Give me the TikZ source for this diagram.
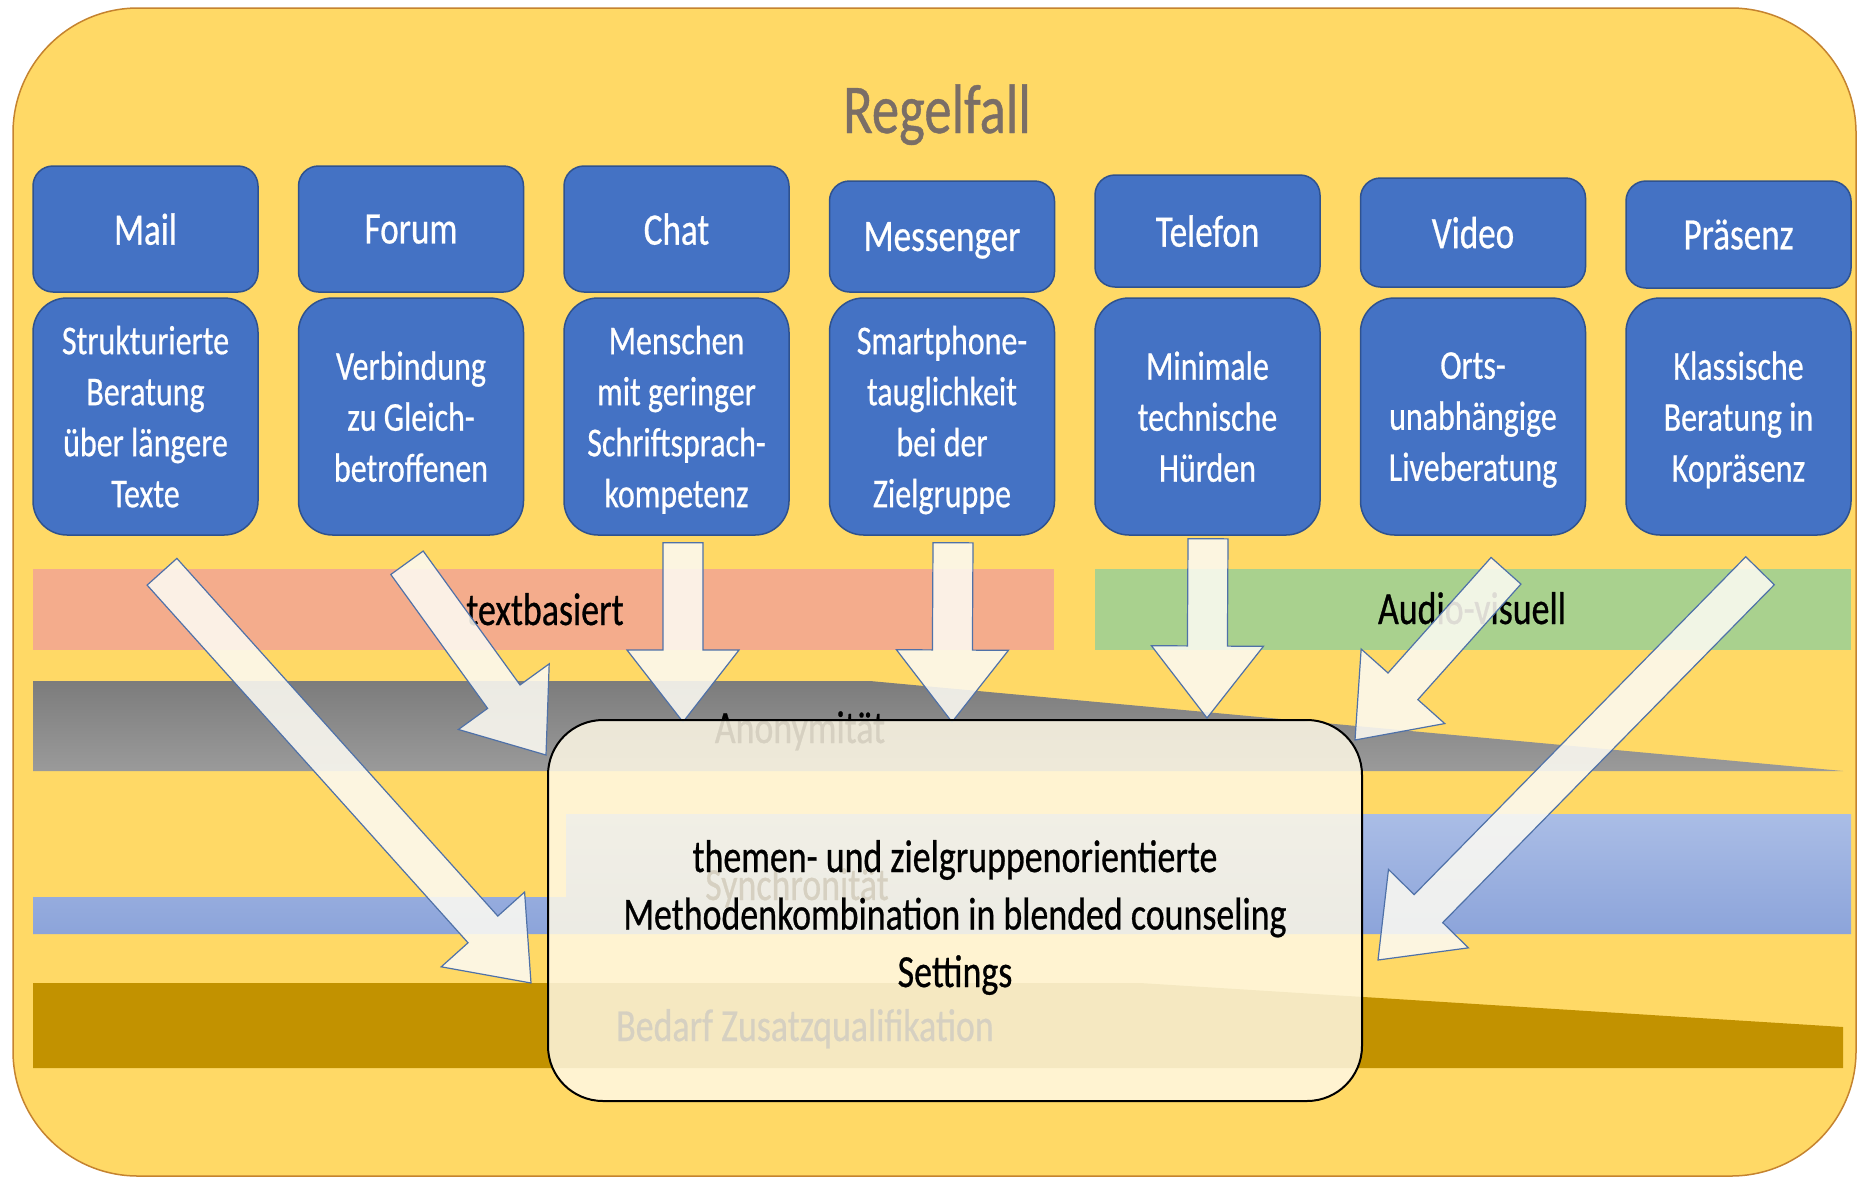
\documentclass[tikz,border=0pt]{standalone}
\usepackage{fontspec}
\setmainfont{Carlito}[FakeStretch=0.78, FakeBold=0.6]
\usetikzlibrary{calc}
\definecolor{bgyellow}{HTML}{FFD966}
\definecolor{bgedge}{HTML}{C5832F}
\definecolor{boxblue}{HTML}{4472C4}
\definecolor{boxedge}{HTML}{2F528F}
\definecolor{titlegray}{HTML}{7A6E66}
\definecolor{textband}{HTML}{F4AC8C}
\definecolor{audioband}{HTML}{A9D18E}
\definecolor{anontop}{HTML}{7C7C7C}
\definecolor{anonbottom}{HTML}{9A9A9A}
\definecolor{synctop}{HTML}{AABDE6}
\definecolor{syncbottom}{HTML}{8CA4DA}
\definecolor{goldband}{HTML}{C29200}
\definecolor{arrowfill}{HTML}{FCFAF2}
\definecolor{arrowedge}{HTML}{4F71A8}
\definecolor{boxcream}{HTML}{FFF9E6}
\tikzset{
  head/.style={rounded corners=20pt, fill=boxblue, draw=boxedge, line width=1.5pt,
    text=white, minimum width=225pt, minimum height=126pt, text depth=0pt,
    font=\fontsize{45}{54}\selectfont},
  body/.style={rounded corners=34pt, fill=boxblue, draw=boxedge, line width=1.5pt,
    text=white, minimum width=225pt, minimum height=237pt, align=center, text depth=0pt,
    font=\fontsize{41}{51}\selectfont},
  bandlabel/.style={anchor=base, font=\fontsize{46}{55}\selectfont},
  blockarrow/.style={fill=arrowfill, fill opacity=0.88, draw=arrowedge, line width=1.2pt},
  centerbox/.style={fill=boxcream, fill opacity=0.84, draw=black, line width=2pt,
    rounded corners=55pt, minimum width=814pt, minimum height=381pt},
  boxtext/.style={align=center, font=\fontsize{46}{57.5}\selectfont}
}
\newcommand{\fatarrow}[2]{%
  \path[blockarrow] ($(#1)!20pt!90:(#2)$) -- ($(#2)!72pt!(#1)!20pt!-90:(#1)$)
    -- ($(#2)!72pt!(#1)!56pt!-90:(#1)$) -- (#2) -- ($(#2)!72pt!(#1)!56pt!90:(#1)$)
    -- ($(#2)!72pt!(#1)!20pt!90:(#1)$) -- ($(#1)!20pt!-90:(#2)$) -- cycle;}

\begin{document}
\begin{tikzpicture}[x=1pt, y=-1pt, node distance=265.5pt]
  \useasboundingbox (0,0) rectangle (1857,1176);
  \fill[white] (0,0) rectangle (1857,1176);
  \filldraw[fill=bgyellow, draw=bgedge, line width=1.5pt, rounded corners=125pt]
    (13,8) rectangle (1856,1176);
  \node (regelfall) [anchor=base, text=titlegray, font=\fontsize{70}{84}\selectfont] at (937,133) {Regelfall};

  \node (mail) [head] at (145.5,229) {Mail};
  \node (forum) [head, right of=mail] {Forum};
  \node (chat) [head, right of=forum] {Chat};
  \node (messenger) [head, right of=chat, yshift=-7.5pt, minimum height=111pt] {Messenger};
  \node (telefon) [head, right of=messenger, yshift=5.5pt, minimum height=112pt] {Telefon};
  \node (video) [head, right of=telefon, yshift=-1.5pt, minimum height=109pt] {Video};
  \node (praesenz) [head, right of=video, yshift=-2pt, minimum height=107pt] {Präsenz};

  \node (mailtext) [body, below of=mail, node distance=187.5pt] {Strukturierte\\Beratung\\über längere\\Texte};
  \node (forumtext) [body, right of=mailtext] {Verbindung\\zu Gleich-\\betroffenen};
  \node (chattext) [body, right of=forumtext] {Menschen\\mit geringer\\Schriftsprach-\\kompetenz};
  \node (messengertext) [body, right of=chattext] {Smartphone-\\tauglichkeit\\bei der\\Zielgruppe};
  \node (telefontext) [body, right of=messengertext] {Minimale\\technische\\Hürden};
  \node (videotext) [body, right of=telefontext] {Orts-\\unabhängige\\Liveberatung};
  \node (praesenztext) [body, right of=videotext] {Klassische\\Beratung in\\Kopräsenz};

  \fill[textband] (33,569) rectangle (1054,650);
  \fill[audioband] (1095,569) rectangle (1851,650);
  \shade[top color=anontop, bottom color=anonbottom] (33,681) -- (870,681) -- (1843,771) -- (33,771) -- cycle;
  \shade[top color=synctop, bottom color=syncbottom] (33,897) -- (566,897) -- (566,814)
    -- (1851,814) -- (1851,934) -- (33,934) -- cycle;
  \fill[goldband] (33,983) -- (1140,983) -- (1843,1027) -- (1843,1068) -- (33,1068) -- cycle;

  \node (textbasiert) [bandlabel] at (545,625) {textbasiert};
  \node (audiovisuell) [bandlabel] at (1472,624) {Audio-visuell};
  \node (anonymitaet) [bandlabel] at (800,743) {Anonymität};
  \node (synchronitaet) [bandlabel] at (797,900) {Synchronität};
  \node (zusatzquali) [bandlabel] at (805,1041) {Bedarf Zusatzqualifikation};

  \coordinate (mailtail) at ([shift={(16.5,36)}]mailtext.south);
  \coordinate (forumtail) at ([shift={(-4,27)}]forumtext.south);
  \coordinate (chattail) at ([shift={(6.5,7)}]chattext.south);
  \coordinate (messengertail) at ([shift={(11,7)}]messengertext.south);
  \coordinate (telefontail) at ([shift={(0.5,3)}]telefontext.south);
  \coordinate (videotail) at ([shift={(33,35)}]videotext.south);
  \coordinate (praesenztail) at ([shift={(21.5,35)}]praesenztext.south);
  \coordinate (mailtip) at (531,983);
  \coordinate (forumtip) at (546,755);
  \coordinate (chattip) at (683,722);
  \coordinate (messengertip) at (952,722);
  \coordinate (telefontip) at (1207,718);
  \coordinate (videotip) at (1355,740);
  \coordinate (praesenztip) at (1378,960);
  \fatarrow{mailtail}{mailtip}
  \fatarrow{forumtail}{forumtip}
  \fatarrow{chattail}{chattip}
  \fatarrow{messengertail}{messengertip}
  \fatarrow{telefontail}{telefontip}
  \fatarrow{videotail}{videotip}
  \fatarrow{praesenztail}{praesenztip}

  \node (methoden) [centerbox] at (955,910.5) {};
  \node (methodentext) [boxtext] at ([yshift=-7pt]methoden.center)
    {themen- und zielgruppenorientierte\\Methodenkombination in blended counseling\\Settings};
\end{tikzpicture}
\end{document}
